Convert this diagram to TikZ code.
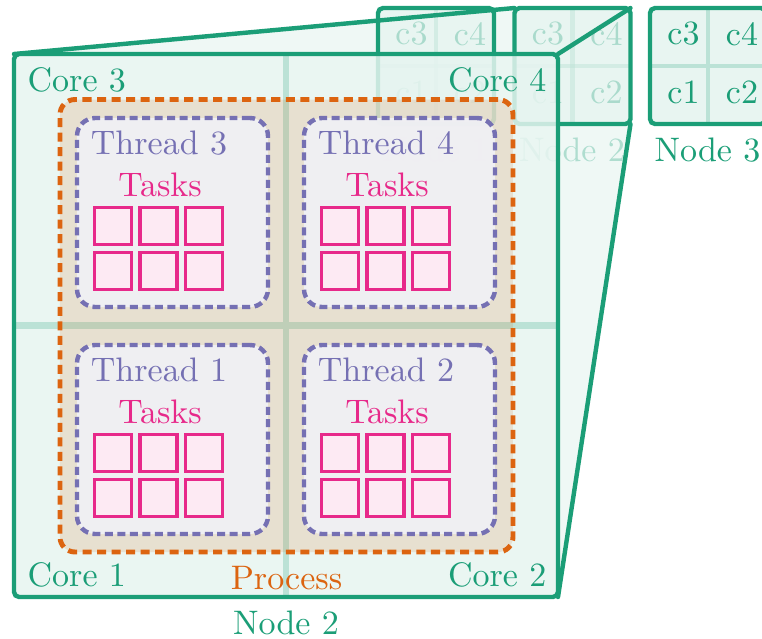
\documentclass[tikz,border=0pt]{standalone}
\usetikzlibrary{fit}
\definecolor{dgreen}{HTML}{1B9E77}
\definecolor{dorange}{HTML}{DC6410}
\definecolor{dpurple}{HTML}{7570B3}
\definecolor{dmagenta}{HTML}{E7298A}
\tikzset{
  boxfit/.style={inner sep=0pt, outer sep=0pt},
  smallfill/.style={boxfit, fill=dgreen!10},
  smallgrid/.style={draw=dgreen!30, line width=1.32pt},
  smallborder/.style={draw=dgreen, line width=1.3pt, rounded corners=1.5pt},
  celltext/.style={text=dgreen, inner sep=0pt},
  conefill/.style={fill=dgreen, fill opacity=0.07},
  coneedge/.style={draw=dgreen, line width=1.3pt, line cap=round},
  bigfill/.style={fill=dgreen!11, fill opacity=0.85, rounded corners=1.5pt},
  biggrid/.style={draw=dgreen!30, line width=1.9pt},
  bigborder/.style={draw=dgreen, line width=1.3pt, rounded corners=1.5pt},
  processbox/.style={boxfit, draw=dorange, fill=dorange, fill opacity=0.15, draw opacity=1,
    line width=1.45pt, dash pattern=on 2.65pt off 1.62pt, rounded corners=4.4pt},
  threadbox/.style={boxfit, draw=dpurple, fill=dpurple!10, fill opacity=0.9,
    line width=1.3pt, dash pattern=on 2.35pt off 1.32pt, rounded corners=5.3pt},
  threadlab/.style={text=dpurple, inner sep=0pt},
  taskslab/.style={text=dmagenta, inner sep=0pt},
  task/.style={draw=dmagenta, fill=dmagenta!10, line width=0.95pt, minimum size=10.9pt, inner sep=0pt},
  corelab/.style={text=dgreen, inner sep=0pt},
  proclab/.style={text=dorange, inner sep=0pt}
}
\begin{document}
\begin{tikzpicture}[x=0.2941pt,y=-0.2941pt]
\useasboundingbox (0,0) rectangle (762,639);
% geometry of the large (zoomed) node and of the small node 2
\node[boxfit, fit={(14,54) (558,597)}] (big) {};
\node[boxfit, fit={(514.5,8) (630.5,124)}] (n2box) {};
% zoom cone faces (under the small nodes)
\fill[conefill] (big.north west) -- (n2box.north west) -- (n2box.north east) -- (big.north east) -- cycle;
\fill[conefill] (big.north east) -- (n2box.north east) -- (n2box.south east) -- (big.south east) -- cycle;
% small nodes
\foreach \nm/\xx/\op/\gop/\lab in {n1/378/0.3/0.45/Node 1, n2/514.5/0.3/0.45/Node 2, n3/650/1/1/Node 3}{
  \node[smallfill, fit={(\xx,8) (\xx+116,124)}] (\nm) {};
  \draw[smallgrid, draw opacity=\gop] (\nm.north) -- (\nm.south);
  \draw[smallgrid, draw opacity=\gop] (\nm.west) -- (\nm.east);
  \node[celltext, text opacity=\op] (\nm-c3) at (\xx+33.5,34) {c3};
  \node[celltext, text opacity=\op] (\nm-c4) at (\xx+92,34) {c4};
  \node[celltext, text opacity=\op] (\nm-c1) at (\xx+33.5,92) {c1};
  \node[celltext, text opacity=\op] (\nm-c2) at (\xx+92,92) {c2};
  \node[celltext, text opacity=\op] (\nm-lab) at (\xx+57.5,150) {\lab};
  \draw[smallborder] (\nm.north west) rectangle (\nm.south east);
}
% zoom cone edges
\draw[coneedge] (big.north west) -- (n2.north west);
\draw[coneedge] (big.north east) -- (n2.north east);
\draw[coneedge] (big.south east) -- (n2.south east);
% large node
\fill[bigfill] (big.north west) rectangle (big.south east);
\draw[biggrid] (big.north) -- (big.south);
\draw[biggrid] (big.west) -- (big.east);
\node[processbox, fit={(60,99.5) (513,552)}] (proc) {};
\foreach \nm/\xx/\yy/\lab in {th3/77/118/Thread 3, th4/304/118/Thread 4, th1/77/345/Thread 1, th2/304/345/Thread 2}{
  \node[threadbox, fit={(\xx,\yy) (\xx+191,\yy+189)}] (\nm) {};
  \node[threadlab] (\nm-lab) at (\xx+82,\yy+25) {\lab};
  \node[taskslab] (\nm-tasks) at (\xx+83,\yy+67) {Tasks};
  \foreach \i/\dx in {1/36, 2/81.5, 3/127}{
    \foreach \j/\dy in {a/108, b/153}{
      \node[task] (\nm-\j\i) at (\xx+\dx,\yy+\dy) {};
    }
  }
}
\node[corelab, anchor=west] (core3) at (27,80) {Core 3};
\node[corelab, anchor=east] (core4) at (547,80) {Core 4};
\node[corelab, anchor=west] (core1) at (27,575) {Core 1};
\node[corelab, anchor=east] (core2) at (547,575) {Core 2};
\node[proclab] (proclabel) at (286.5,578) {Process};
\draw[bigborder] (big.north west) rectangle (big.south east);
\node[corelab] (bigname) at (286,623) {Node 2};
\end{tikzpicture}
\end{document}
